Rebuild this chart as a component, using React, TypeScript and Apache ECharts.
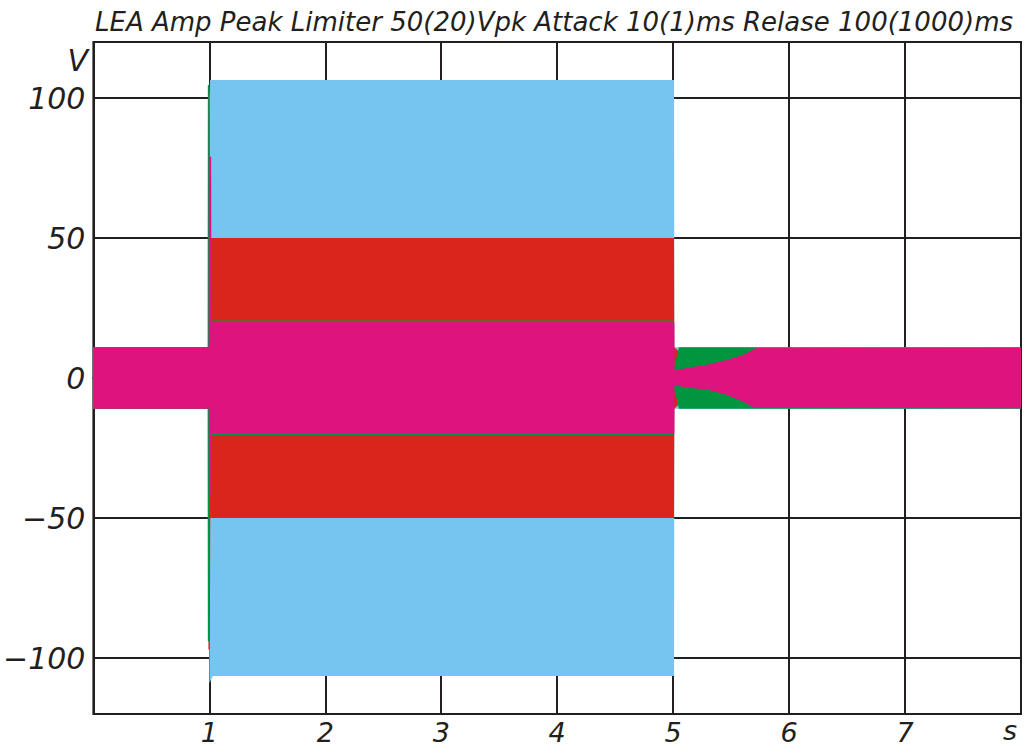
import React, { useEffect, useRef } from "react";
import * as echarts from "echarts";

const TITLE = "LEA Amp Peak Limiter 50(20)Vpk Attack 10(1)ms Relase 100(1000)ms";
const Y_TICKS = [-100, -50, 0, 50, 100];
const X_TICKS = [1, 2, 3, 4, 5, 6, 7];

// Envelopes of the dense sine waveforms: [time s, volts]
const blueUpper = [[0, 11], [0.998, 11], [1.0, 100], [1.006, 106.4], [5.008, 106.4], [5.01, 11], [8, 11]];
const blueLower = [[0, -11], [0.998, -11], [1.0, -109], [1.03, -106.4], [5.008, -106.4], [5.01, -11], [8, -11]];

const redUpper = [[0, 11], [1.0, 11], [1.003, 50], [5.008, 50], [5.01, 11], [5.06, 9], [5.065, 0], [8, 0]];
const redLower = [[0, -11], [0.99, -11], [0.992, -97], [1.004, -97], [1.008, -50], [5.008, -50], [5.01, -11], [5.06, -9], [5.065, 0], [8, 0]];

const greenUpper = [[0, 11], [0.985, 11], [0.987, 104.6], [1.0, 104.6], [1.004, 20.5], [5.0, 20.5], [5.01, 4], [5.05, 11], [8, 11]];
const greenLower = [[0, -11], [0.985, -11], [0.987, -94], [1.0, -94], [1.004, -20.5], [5.0, -20.5], [5.01, -4], [5.05, -11], [8, -11]];

const magentaUpper = [[0, 11], [0.994, 11], [0.996, 103], [1.0, 95], [1.002, 79], [1.016, 79], [1.018, 20], [5.01, 20], [5.012, 2.9], [5.16, 3.8], [5.31, 4.9], [5.46, 6.4], [5.6, 8.2], [5.72, 10.7], [8, 10.8]];
const magentaLower = [[0, -11], [0.995, -11], [0.997, -42], [1.016, -42], [1.018, -20], [5.01, -20], [5.012, -2.7], [5.16, -3.6], [5.31, -4.3], [5.46, -6], [5.6, -8.4], [5.7, -10.7], [8, -10.8]];

const BLUE = "#76C5F0";
const RED = "#DA251D";
const GREEN = "#009640";
const MAGENTA = "#DE137E";
const INK = "#231F20";
const FONT = "'DejaVu Sans', sans-serif";

function band(name: string, data: number[][], color: string) {
  return {
    name,
    type: "line",
    data,
    symbol: "none",
    showSymbol: false,
    smooth: false,
    silent: true,
    lineStyle: { width: 0, color },
    itemStyle: { color },
    areaStyle: { color, opacity: 1 },
  };
}

export default function App() {
  const ref = useRef<HTMLDivElement>(null);
  useEffect(() => {
    document.body.style.margin = "0";
    if (!ref.current) return;
    const chart = echarts.init(ref.current, null, { renderer: "svg" });
    const fmt = (v: number) => (v < 0 ? "\u2212" + Math.abs(v) : String(v));
    chart.setOption({
      animation: false,
      backgroundColor: "#ffffff",
      title: {
        text: TITLE,
        left: 90,
        top: 4,
        textStyle: { fontFamily: FONT, fontStyle: "italic", fontWeight: "normal", fontSize: 26, color: INK },
      },
      grid: { left: 93, right: 2, top: 42, bottom: 35, show: true, borderColor: INK, borderWidth: 2, backgroundColor: "transparent" },
      xAxis: {
        type: "value",
        min: 0,
        max: 8,
        interval: 1,
        axisLine: { show: true, lineStyle: { color: INK, width: 2 } },
        axisTick: { show: false },
        splitLine: { show: true, lineStyle: { color: INK, width: 2 } },
        axisLabel: {
          margin: 4,
          fontFamily: FONT,
          fontStyle: "italic",
          fontSize: 27,
          lineHeight: 28,
          color: INK,
          formatter: (v: number) => (X_TICKS.indexOf(v) >= 0 ? String(v) : ""),
        },
      },
      yAxis: {
        type: "value",
        min: -120,
        max: 120,
        splitNumber: 5,
        axisLine: { show: true, lineStyle: { color: INK, width: 2 } },
        axisTick: { show: false },
        splitLine: { show: true, lineStyle: { color: INK, width: 2 } },
        axisLabel: {
          margin: 8,
          fontFamily: FONT,
          fontStyle: "italic",
          fontSize: 30,
          color: INK,
          formatter: (v: number) => (Y_TICKS.indexOf(v) >= 0 ? fmt(v) : ""),
        },
      },
      graphic: [
        { type: "text", right: 1024 - 88, top: 45, style: { text: "V", fontFamily: FONT, fontStyle: "italic", fontSize: 30, fill: INK } },
        { type: "text", left: 1003, top: 717, style: { text: "s", fontFamily: FONT, fontStyle: "italic", fontSize: 27, fill: INK } },
      ],
      series: [
        band("Input +", blueUpper, BLUE),
        band("Input \u2212", blueLower, BLUE),
        band("Limiter 50 +", redUpper, RED),
        band("Limiter 50 \u2212", redLower, RED),
        band("Release +", greenUpper, GREEN),
        band("Release \u2212", greenLower, GREEN),
        band("Limiter 20 +", magentaUpper, MAGENTA),
        band("Limiter 20 \u2212", magentaLower, MAGENTA),
      ],
    });
    return () => chart.dispose();
  }, []);
  return <div ref={ref} style={{ width: 1024, height: 749 }} />;
}
